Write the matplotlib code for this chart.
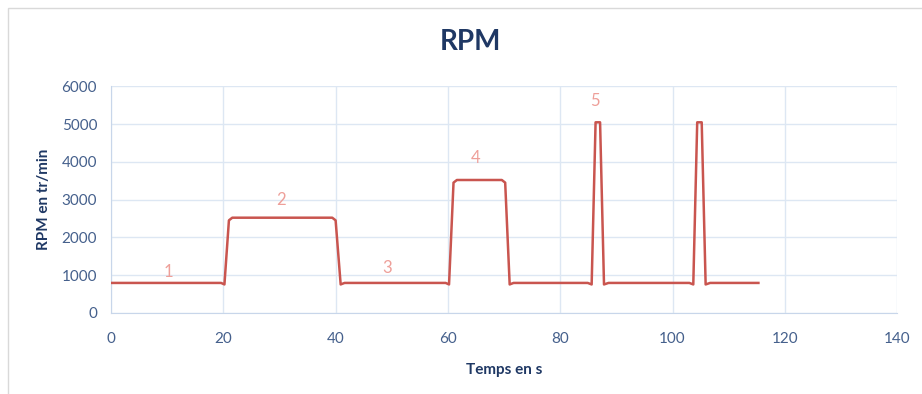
import matplotlib.pyplot as plt
from matplotlib.patches import Rectangle

# data
temps = [0, 19.6, 20.2, 21.0, 21.6, 39.4, 40.0, 40.9, 41.6, 59.6, 60.2, 61.0, 61.6,
         69.6, 70.2, 71.0, 71.7, 84.9, 85.6, 86.3, 87.1, 87.8, 88.6, 103.0, 103.7,
         104.4, 105.2, 105.9, 106.7, 115.3]
rpm = [790, 790, 750, 2450, 2520, 2520, 2450, 750, 790, 790, 750, 3450, 3520,
       3520, 3450, 750, 790, 790, 750, 5050, 5050, 750, 790, 790, 750,
       5050, 5050, 750, 790, 790]
zone_labels = ['1', '2', '3', '4', '5']
zone_x = [10.2, 30.3, 49.2, 64.9, 86.1]
zone_y = [1080, 2990, 1185, 4100, 5610]

plt.rcParams['font.family'] = ['Lato', 'DejaVu Sans']

fig = plt.figure(figsize=(9.22, 3.94), dpi=100)
fig.patches.append(Rectangle((0.009, -0.01), 1.0, 0.99, transform=fig.transFigure,
                             fill=False, edgecolor='#d9d9d9', linewidth=1.0))
ax = fig.add_axes([0.1204, 0.2063, 0.8526, 0.5742])

ax.plot(temps, rpm, color='#c9554f', linewidth=1.8, solid_joinstyle='round', zorder=3)
for lab, x, y in zip(zone_labels, zone_x, zone_y):
    ax.text(x, y, lab, color='#ee9f99', fontsize=12, ha='center', va='center')

ax.set_xlim(0, 140)
ax.set_ylim(0, 6000)
ax.set_xticks(range(0, 141, 20))
ax.set_yticks(range(0, 6001, 1000))
ax.grid(True, color='#dde7f3', linewidth=1.0)
for side in ['top', 'right']:
    ax.spines[side].set_visible(False)
for side in ['left', 'bottom']:
    ax.spines[side].set_color('#c8d6ea')
ax.tick_params(length=0, labelsize=11, colors='#45608c')
ax.tick_params(axis='x', pad=14)
ax.tick_params(axis='y', pad=10)

ax.set_xlabel('Temps en s', fontsize=11, fontweight='bold', color='#1f3864', labelpad=12)
ax.set_ylabel('RPM en tr/min', fontsize=11, fontweight='bold', color='#1f3864', labelpad=8)
fig.text(0.51, 0.893, 'RPM', fontsize=20, fontweight='bold', color='#1f3864',
         ha='center', va='center')

fig.savefig('out.png', dpi=100)
